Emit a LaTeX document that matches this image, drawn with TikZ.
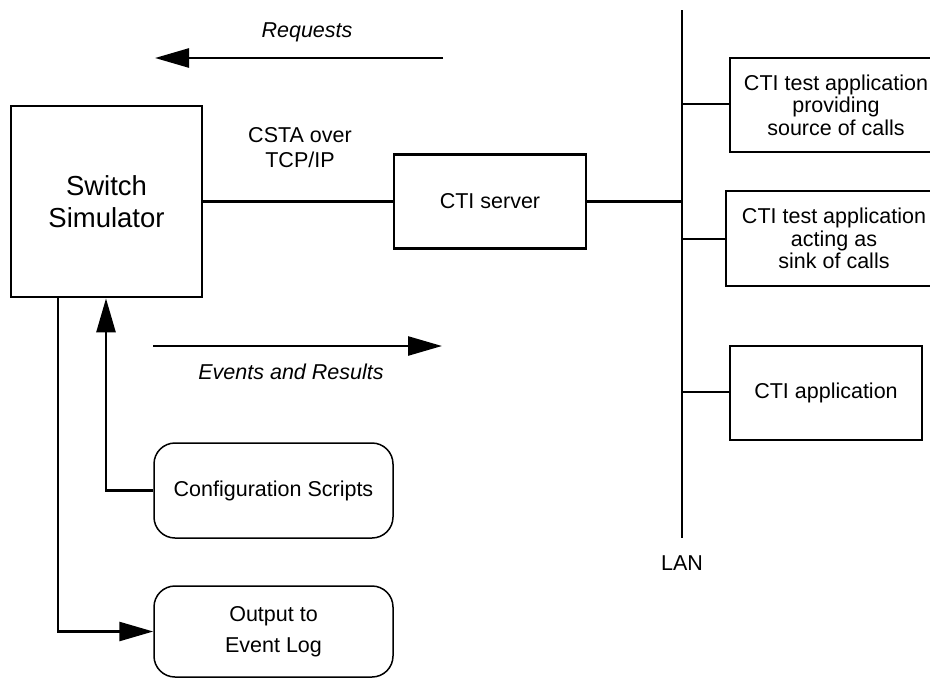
\documentclass[tikz,border=0pt]{standalone}
\usepackage{fontspec}
\setmainfont{Liberation Sans}
\usetikzlibrary{arrows.meta}
\begin{document}
\begin{tikzpicture}[x=1pt,y=-1pt,
  box/.style={draw,line width=2.7pt,inner sep=0pt,align=center,font=\fontsize{21.5}{22.5}\selectfont},
  rbox/.style={draw,line width=1.5pt,rounded corners=21pt,inner sep=0pt,align=center,font=\fontsize{21.5}{31}\selectfont},
  conn/.style={line width=2.4pt},
  arr/.style={line width=2.6pt,-{Triangle[length=34pt,width=19pt]}},
  lbl/.style={font=\fontsize{21.5}{25}\selectfont,align=center,inner sep=0pt},
  ilbl/.style={font=\fontsize{21.5}{23}\selectfont\itshape,inner sep=0pt}]
\useasboundingbox (0,0) rectangle (930,678);
\clip (0,0) rectangle (930,678);
% boxes
\node[box,minimum width=191pt,minimum height=191pt,font=\fontsize{27.5}{32}\selectfont] (sw) at (106.5,201.5) {Switch\\Simulator};
\node[box,minimum width=192pt,minimum height=94pt] (cti) at (490,201.5) {CTI server};
\node[box,minimum width=212pt,minimum height=94pt] (app1) at (836,105) {CTI test application\\providing\\source of calls};
\node[box,minimum width=216pt,minimum height=95pt] (app2) at (834,238.5) {CTI test application\\acting as\\sink of calls};
\node[box,minimum width=192pt,minimum height=94pt] (app3) at (826,393) {CTI application};
\node[rbox,minimum width=239pt,minimum height=95pt] (cfg) at (273.5,490.5) {Configuration Scripts};
\node[rbox,minimum width=239pt,minimum height=91pt] (log) at (273.5,631.5) {Output to\\Event Log};
% LAN
\coordinate (lant) at (682,10);
\coordinate (lanb) at (682,538);
\draw[conn] (lant) -- (lanb);
\node[lbl,anchor=base] (lan) at (682,570) {LAN};
% links
\draw[conn] (sw.east) -- (cti.west);
\node[lbl,anchor=base] (csta) at (300,167) {CSTA over\\TCP/IP};
\draw[conn] (cti.east) -- (cti.east -| lant);
\draw[conn] (app1.west |- 0,104) coordinate (a1) -- (a1 -| lant);
\draw[conn] (app2.west |- 0,239) coordinate (a2) -- (a2 -| lant);
\draw[conn] (app3.west |- 0,392) coordinate (a3) -- (a3 -| lant);
% Requests / Events
\coordinate (rq1) at (443,58);
\coordinate (rq2) at (155,58);
\draw[arr] (rq1) -- (rq2);
\node[ilbl,anchor=base] (rqt) at (307,37) {Requests};
\coordinate (ev1) at (153,346);
\coordinate (ev2) at (442,346);
\draw[arr] (ev1) -- (ev2);
\node[ilbl,anchor=base] (evt) at (291,379) {Events and Results};
% config / log arrows
\draw[arr] (cfg.west) -| (sw.south -| 106,0);
\draw[arr] (sw.south -| 58,0) |- (log.west);
\end{tikzpicture}
\end{document}
